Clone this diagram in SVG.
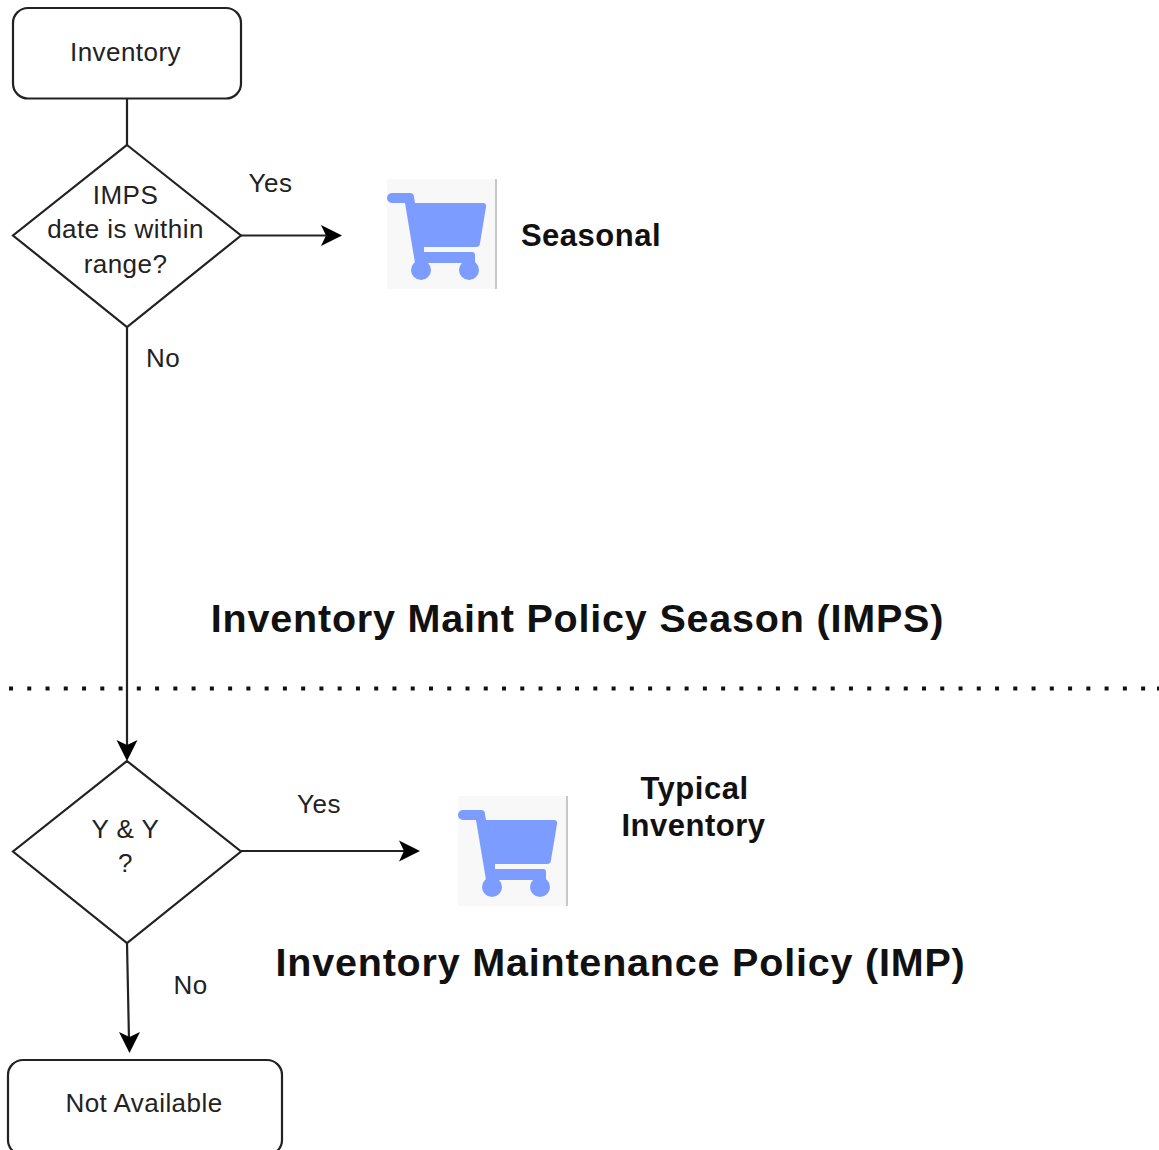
<svg xmlns="http://www.w3.org/2000/svg" width="1159" height="1150" viewBox="0 0 1159 1150">
<style>
text{font-family:"Liberation Sans",Arial,sans-serif;fill:#111;text-anchor:middle}
.n{font-size:26px;letter-spacing:.45px;fill:#222}
.b{font-weight:bold;letter-spacing:.5px}
.t{font-weight:bold;font-size:39.500px;letter-spacing:.8px}
.s{fill:#fff;stroke:#222;stroke-width:2.2}
.c{fill:none;stroke:#222;stroke-width:2.2}
.a{fill:#000}
</style>
<defs>
<g id="cart">
<rect x="0" y="0" width="110" height="110" fill="#f8f8f8"/>
<rect x="108" y="0" width="2" height="110" fill="#c8c8c8"/>
<path d="M5 14H23a4 4 0 0 1 4 4L28 24H96a3 3 0 0 1 3 4L93 64a4 4 0 0 1-4 4H37V73H85a3 3 0 0 1 3 3V84H28L18 24H5a5 5 0 0 1 0-10Z" fill="#7c9cff"/>
<circle cx="34" cy="91" r="10" fill="#7c9cff"/>
<circle cx="82" cy="91" r="10" fill="#7c9cff"/>
</g>
</defs>
<g id="connectors">
<path class="c" d="M127 99V145"/>
<path class="c" d="M241 235.500H330"/>
<path class="a" d="M342 235.500L321 225L326 235.500L321 246Z"/>
<path class="c" d="M127 327V748"/>
<path class="a" d="M127 761L116.500 740L127 745L137.500 740Z"/>
<path class="c" d="M241 851H408"/>
<path class="a" d="M420 851L399 840.500L404 851L399 861.500Z"/>
<path class="c" d="M127 943L129 1040"/>
<path class="a" d="M129.500 1053L119 1032L129.500 1037L140 1032Z"/>
</g>
<g id="divider">
<line x1="9" y1="688.500" x2="1150" y2="688.500" stroke="#111" stroke-width="4" stroke-dasharray="4 14.260"/>
<rect x="1157" y="686.500" width="2" height="4" fill="#111"/>
</g>
<g id="inventory"><rect class="s" x="13" y="8" width="228" height="90.500" rx="15"/><text class="n" x="125.500" y="61">Inventory</text></g>
<g id="decision-imps"><path class="s" d="M127 145L241 235.500L127 327L13 235.500Z"/><text class="n" x="125.500" y="204">IMPS</text><text class="n" x="125.500" y="238">date is within</text><text class="n" x="125.500" y="273">range?</text></g>
<g id="decision-yy"><path class="s" d="M127 761L241 851.500L127 943L13 851.500Z"/><text class="n" x="125.500" y="838">Y &amp; Y</text><text class="n" x="125.500" y="872">?</text></g>
<g id="not-available"><rect class="s" x="8" y="1060" width="274" height="95" rx="15"/><text class="n" x="144" y="1112">Not Available</text></g>
<g id="cart-seasonal"><use href="#cart" x="387" y="179"/></g>
<g id="cart-typical"><use href="#cart" x="458" y="796"/></g>
<g id="labels">
<text class="n" x="270.500" y="192">Yes</text>
<text class="n" x="163" y="367">No</text>
<text class="n" x="319" y="813">Yes</text>
<text class="n" x="190.500" y="994">No</text>
<text class="b" font-size="31" x="591" y="246">Seasonal</text>
<text class="b" font-size="31" x="694.500" y="799">Typical</text>
<text class="b" font-size="31" x="693.500" y="836">Inventory</text>
<text class="t" x="577.500" y="632">Inventory Maint Policy Season (IMPS)</text>
<text class="t" x="620.500" y="976">Inventory Maintenance Policy (IMP)</text>
</g>
</svg>
